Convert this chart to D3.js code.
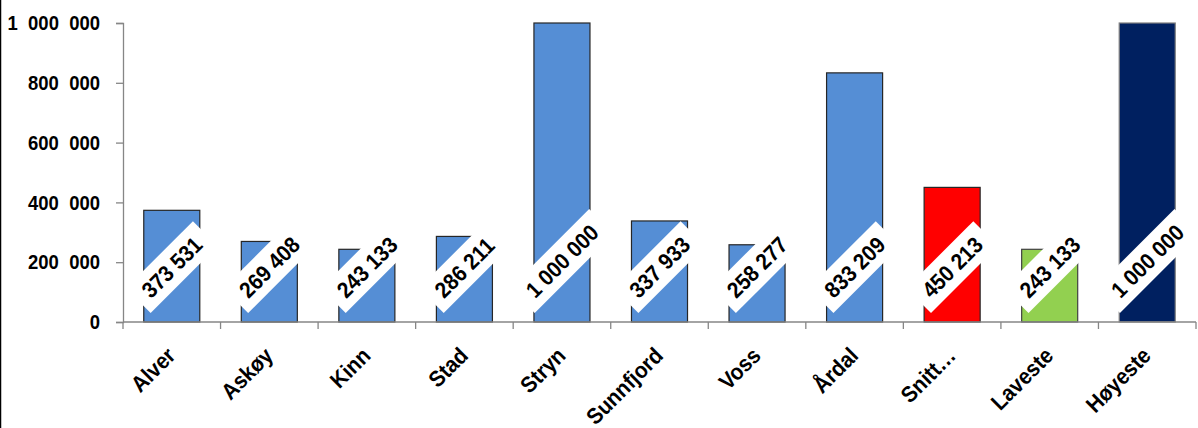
<!DOCTYPE html>
<html>
<head>
<meta charset="utf-8">
<script src="https://cdn.jsdelivr.net/npm/d3@7"></script>
<style>
  html, body { margin: 0; padding: 0; background: #fff; }
  svg { display: block; }
  text { font-family: "Liberation Sans", Arial, sans-serif; font-weight: bold; }
</style>
</head>
<body>
<svg id="chart" width="1198" height="428"></svg>
<script>
const categories = ["Alver", "Askøy", "Kinn", "Stad", "Stryn", "Sunnfjord", "Voss", "Årdal", "Snitt…", "Laveste", "Høyeste"];
const values = [373531, 269408, 243133, 286211, 1000000, 337933, 258277, 833209, 450213, 243133, 1000000];
const yTicks = [0, 200000, 400000, 600000, 800000, 1000000];

const barFill = ["#558ED5", "#558ED5", "#558ED5", "#558ED5", "#558ED5", "#558ED5", "#558ED5", "#558ED5", "#FF0000", "#92D050", "#002060"];
const barStroke = ["#262626", "#262626", "#262626", "#262626", "#262626", "#262626", "#262626", "#262626", "#262626", "#404040", "#7f7f7f"];

const svg = d3.select("#chart");
const W = 1198, H = 428;
const plot = { left: 123, right: 1196, top: 23, bottom: 322 };

// compress text horizontally to mimic the narrow rendering
function squeeze(sel, s) {
  sel.each(function () {
    const len = this.getComputedTextLength();
    d3.select(this).attr("textLength", len * s).attr("lengthAdjust", "spacingAndGlyphs");
  });
}

svg.append("line").attr("x1", 0.5).attr("x2", 0.5).attr("y1", 0).attr("y2", H)
  .attr("stroke", "#000").attr("stroke-width", 1.5);

const x = d3.scaleBand().domain(categories).range([plot.left, plot.right]).paddingInner(0.4256).paddingOuter(0.2128);
const xb = d3.scaleBand().domain(categories).range([plot.left, plot.right]).padding(0);
const y = d3.scaleLinear().domain([0, 1000000]).range([plot.bottom, plot.top]);

const fmtAxis = v => d3.format(",")(v).replace(/,/g, "\u00a0\u00a0");
const fmtLabel = v => d3.format(",")(v).replace(/,/g, "\u00a0");

// Y axis
const yAxis = d3.axisLeft(y).tickValues(yTicks).tickSize(7).tickPadding(16).tickFormat(fmtAxis);
const gy = svg.append("g").attr("transform", `translate(${plot.left},0)`).call(yAxis);
gy.select(".domain").attr("stroke", "#868686").attr("stroke-width", 1.3);
gy.selectAll(".tick line").attr("stroke", "#868686").attr("stroke-width", 1.3);
gy.selectAll(".tick text").attr("fill", "#000").style("font-size", "21px")
  .style("font-family", "'Liberation Sans', Arial, sans-serif").style("font-weight", "bold");
squeeze(gy.selectAll(".tick text"), 0.88);

// bars
svg.append("g").selectAll("rect").data(categories).join("rect")
  .attr("x", d => x(d))
  .attr("y", (d, i) => y(values[i]))
  .attr("width", x.bandwidth())
  .attr("height", (d, i) => y(0) - y(values[i]))
  .attr("fill", (d, i) => barFill[i])
  .attr("stroke", (d, i) => barStroke[i])
  .attr("stroke-width", 1.2);

// X axis line and boundary ticks
const gx = svg.append("g");
gx.append("line").attr("x1", plot.left).attr("x2", plot.right).attr("y1", plot.bottom).attr("y2", plot.bottom)
  .attr("stroke", "#868686").attr("stroke-width", 1.5);
const bounds = categories.map(c => xb(c)).concat([plot.right]);
gx.selectAll("line.tk").data(bounds).join("line").attr("class", "tk")
  .attr("x1", d => d).attr("x2", d => d).attr("y1", plot.bottom).attr("y2", plot.bottom + 7)
  .attr("stroke", "#868686").attr("stroke-width", 1.3);

// X category labels rotated
const cats = gx.selectAll("text.cat").data(categories).join("text").attr("class", "cat")
  .attr("text-anchor", "end")
  .attr("transform", d => `translate(${xb(d) + xb.bandwidth() / 2 + 5},${plot.bottom + 35}) rotate(-45)`)
  .style("font-size", "22.5px")
  .attr("fill", "#000")
  .text(d => d);
squeeze(cats, 0.92);

// data labels with white box, rotated -45, inside base
const lab = svg.append("g");
categories.forEach((c, i) => {
  const cx = xb(c) + xb.bandwidth() / 2;
  const g = lab.append("g");
  const t = g.append("text").attr("text-anchor", "middle").attr("dy", "0.36em")
    .style("font-size", "22.5px").attr("fill", "#000").text(fmtLabel(values[i]));
  const tw0 = t.node().getComputedTextLength();
  const tw = tw0 * 0.92;
  t.attr("textLength", tw).attr("lengthAdjust", "spacingAndGlyphs");
  const bw = tw + 20, bh = 35;
  g.insert("rect", "text").attr("x", -bw / 2).attr("y", -bh / 2).attr("width", bw).attr("height", bh).attr("fill", "#fff");
  const bboxH = (bw + bh) / Math.SQRT2;
  const cy = plot.bottom - 9 - bboxH / 2;
  g.attr("transform", `translate(${cx},${cy}) rotate(-45)`);
});
</script>
</body>
</html>
